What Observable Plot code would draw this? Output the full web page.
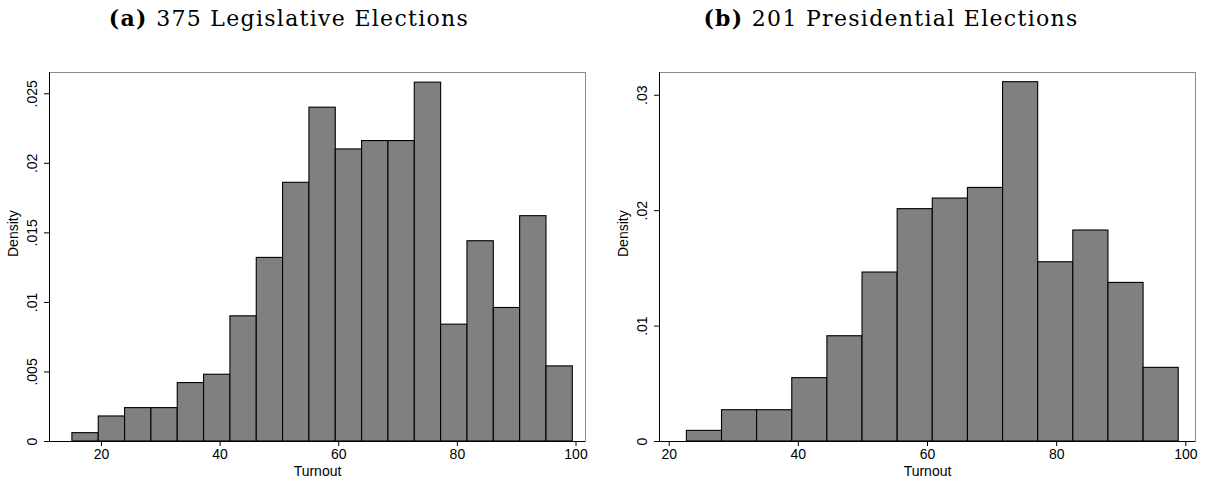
<!DOCTYPE html>
<html><head><meta charset="utf-8">
<script src="https://cdn.jsdelivr.net/npm/d3@7"></script>
<script src="https://cdn.jsdelivr.net/npm/@observablehq/plot@0.6"></script>
<style>
body{margin:0;background:#fff;}
#wrap{position:relative;width:1206px;height:484px;overflow:hidden;background:#fff;}
#titles{position:relative;height:40px;}
.title{position:absolute;top:5px;font-family:"DejaVu Serif","Liberation Serif",serif;font-size:22px;letter-spacing:1.3px;white-space:nowrap;transform:translateX(-50%);color:#000;}
.title b{font-weight:bold;}
#plots{display:flex;}
#plots svg{display:block;}
</style></head>
<body>
<div id="wrap">
  <div id="titles">
    <div class="title" style="left:289px"><b>(a)</b> 375 Legislative Elections</div>
    <div class="title" style="left:891px"><b>(b)</b> 201 Presidential Elections</div>
  </div>
  <div id="plots"></div>
</div>
<script>
// Panel (a): legislative elections — bin edges and densities
const legEdges = [15.1, 19.54, 23.98, 28.42, 32.86, 37.3, 41.74, 46.18, 50.62, 55.06, 59.5, 63.94, 68.38, 72.82, 77.26, 81.7, 86.14, 90.58, 95.02, 99.46];
const legDensity = [0.0006, 0.0018, 0.0024, 0.0024, 0.0042, 0.0048, 0.0090, 0.0132, 0.0186, 0.0240, 0.0210, 0.0216, 0.0216, 0.0258, 0.0084, 0.0144, 0.0096, 0.0162, 0.0054];
const legYTicks = [0, 0.005, 0.01, 0.015, 0.02, 0.025];
const legYLabels = ["0", ".005", ".01", ".015", ".02", ".025"];

// Panel (b): presidential elections
const presEdges = [22.74, 28.18, 33.62, 39.06, 44.5, 49.94, 55.38, 60.82, 66.26, 71.7, 77.14, 82.58, 88.02, 93.46, 98.9];
const presDensity = [0.00092, 0.00271, 0.00271, 0.00549, 0.00912, 0.01464, 0.02013, 0.02105, 0.02197, 0.03113, 0.01553, 0.01828, 0.01374, 0.00638];
const presYTicks = [0, 0.01, 0.02, 0.03];
const presYLabels = ["0", ".01", ".02", ".03"];

const xTicks = [20, 40, 60, 80, 100];
const xLabel = "Turnout";
const yLabel = "Density";

function panel({edges, density, yTicks, yLabels, xDomain, yDomain, marginLeft, marginRight}) {
  const rows = density.map((d, i) => ({x1: edges[i], x2: edges[i + 1], y: d}));
  const lab = new Map(yTicks.map((t, i) => [t, yLabels[i]]));
  return Plot.plot({
    width: 603,
    height: 444,
    marginTop: 32,
    marginBottom: 43,
    marginLeft,
    marginRight,
    style: {fontFamily: "'Liberation Sans', Arial, sans-serif", fontSize: "14px", color: "#000", background: "#fff"},
    x: {domain: xDomain},
    y: {domain: yDomain},
    marks: [
      Plot.frame({stroke: "#8a8a8a", strokeWidth: 1}),
      Plot.rectY(rows, {x1: "x1", x2: "x2", y: "y", fill: "#808080", stroke: "#000", strokeWidth: 1.1}),
      Plot.ruleY([0], {stroke: "#000", strokeWidth: 1}),
      Plot.ruleX([xDomain[0]], {stroke: "#000", strokeWidth: 1}),
      Plot.axisX({ticks: xTicks, tickSize: 5, tickPadding: 3, tickFormat: d => String(d), label: null, fontSize: 14}),
      Plot.axisY({ticks: yTicks, tickSize: 5, tickPadding: 8, tickRotate: -90, tickFormat: d => lab.get(d), label: null, fontSize: 14}),
      Plot.text([xLabel], {frameAnchor: "bottom", dy: 34, text: d => d, fontSize: 14}),
      Plot.text([yLabel], {frameAnchor: "left", dx: -36, rotate: -90, text: d => d, fontSize: 14})
    ]
  });
}

const host = document.getElementById("plots");
host.append(panel({edges: legEdges, density: legDensity, yTicks: legYTicks, yLabels: legYLabels,
  xDomain: [11.24, 101.6], yDomain: [0, 0.02653], marginLeft: 49, marginRight: 18}));
host.append(panel({edges: presEdges, density: presDensity, yTicks: presYTicks, yLabels: presYLabels,
  xDomain: [18.5, 101.5], yDomain: [0, 0.03197], marginLeft: 56, marginRight: 11}));
</script>
</body></html>
